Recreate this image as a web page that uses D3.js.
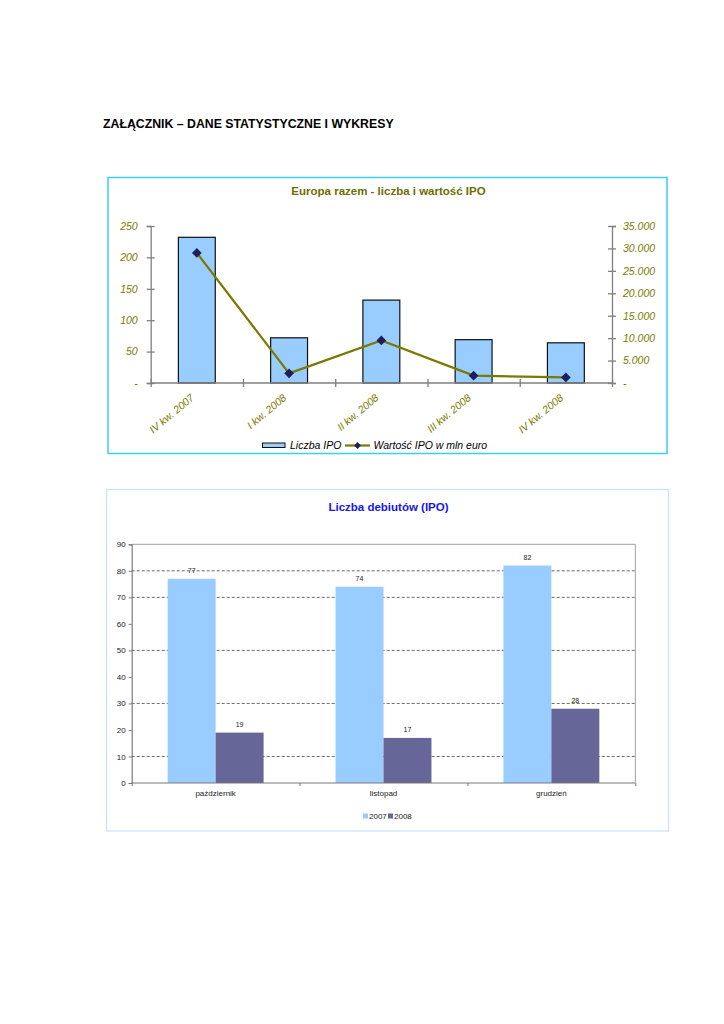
<!DOCTYPE html>
<html>
<head>
<meta charset="utf-8">
<script src="https://cdn.jsdelivr.net/npm/d3@7"></script>
<style>
    body { margin: 0; background: #fff; }
    svg { display: block; font-family: Arial, "Liberation Sans", sans-serif; }
</style>
</head>
<body>
<div id="page"></div>
<script>
// chart 1 - Europa razem
const quarters = ["IV kw. 2007", "I kw. 2008", "II kw. 2008", "III kw. 2008", "IV kw. 2008"]
const ipoCount = [232, 72, 132, 69, 64]
const ipoValue = [29000, 2150, 9500, 1640, 1240]
const countTicks = [0, 50, 100, 150, 200, 250]
const valueTicks = [0, 5000, 10000, 15000, 20000, 25000, 30000, 35000]

// chart 2 - Liczba debiutów
const months = ["październik", "listopad", "grudzień"]
const years = ["2007", "2008"]
const debuts2007 = [77, 74, 82]
const debuts2008 = [19, 17, 28]
const debutTicks = [0, 10, 20, 30, 40, 50, 60, 70, 80, 90]
const gridTicks = [10, 30, 50, 70, 80] // only these dashed lines show in the original

const olive = "#7a7a00"
const svg = d3.select("#page").append("svg")
    .attr("width", 724)
    .attr("height", 1024)

svg.append("text")
    .attr("x", 103)
    .attr("y", 128)
    .attr("font-size", 12.3)
    .attr("font-weight", "bold")
    .text("ZAŁĄCZNIK – DANE STATYSTYCZNE I WYKRESY")

// ---------------- chart 1 ----------------
{
    const left = 150.7, right = 612, top = 226, bottom = 383

    svg.append("rect")
        .attr("x", 108).attr("y", 177.5)
        .attr("width", 559).attr("height", 276)
        .attr("fill", "none")
        .attr("stroke", "#3ccdf5")
        .attr("stroke-width", 1.5)

    svg.append("text")
        .attr("x", 388.5).attr("y", 195)
        .attr("text-anchor", "middle")
        .attr("font-size", 11.5)
        .attr("font-weight", "bold")
        .attr("fill", "#6e6e00")
        .text("Europa razem - liczba i wartość IPO")

    const x = d3.scaleBand()
        .domain(quarters)
        .range([left, right])
        .paddingInner(0.6)
        .paddingOuter(0.3)
    const xTicks = d3.scaleLinear().domain([0, quarters.length]).range([left, right])
    const yL = d3.scaleLinear().domain([0, 250]).range([bottom, top])
    const yR = d3.scaleLinear().domain([0, 35000]).range([bottom, top])

    const bars = quarters.map((q, i) => ({q, n: ipoCount[i], v: ipoValue[i]}))

    svg.append("g").selectAll("rect")
        .data(bars)
        .join("rect")
        .attr("x", d => x(d.q))
        .attr("y", d => yL(d.n))
        .attr("width", x.bandwidth())
        .attr("height", d => bottom - yL(d.n))
        .attr("fill", "#99ccff")
        .attr("stroke", "#111")
        .attr("stroke-width", 1.2)

    const fmt = d => d === 0 ? "-" : d3.format(",")(d).replace(/,/g, ".")

    const gL = svg.append("g")
        .attr("transform", `translate(${left},0)`)
        .call(d3.axisLeft(yL).tickValues(countTicks).tickFormat(d => d === 0 ? "-" : d).tickSize(4).tickPadding(9))
    const gR = svg.append("g")
        .attr("transform", `translate(${right},0)`)
        .call(d3.axisRight(yR).tickValues(valueTicks).tickFormat(fmt).tickSize(4).tickPadding(7))
    const gB = svg.append("g")
        .attr("transform", `translate(0,${bottom})`)
        .call(d3.axisBottom(xTicks).tickValues(d3.range(quarters.length + 1)).tickFormat("").tickSize(4).tickSizeOuter(0))

    for (const g of [gL, gR, gB]) {
        g.select(".domain").attr("stroke", "#808080").attr("stroke-width", 1.3)
        g.selectAll(".tick line").attr("stroke", "#808080").attr("stroke-width", 1.3)
        g.selectAll("text")
            .attr("fill", olive)
            .attr("font-style", "italic")
            .attr("font-size", 10.5)
            .attr("font-family", "Arial, 'Liberation Sans', sans-serif")
    }
    // ticks cross the axis
    gL.selectAll(".tick line").attr("x1", 4)
    gR.selectAll(".tick line").attr("x1", -4)
    gB.selectAll(".tick line").attr("y1", -4)
    gB.select(".domain").attr("d", `M${left},0H${right}`)

    svg.append("g").selectAll("text")
        .data(quarters)
        .join("text")
        .attr("transform", d => `translate(${x(d) + x.bandwidth() / 2 - 2},399) rotate(-40)`)
        .attr("text-anchor", "end")
        .attr("font-size", 10.5)
        .attr("font-style", "italic")
        .attr("fill", olive)
        .text(d => d)

    const line = d3.line()
        .x(d => x(d.q) + x.bandwidth() / 2)
        .y(d => yR(d.v))

    svg.append("path")
        .datum(bars)
        .attr("d", line)
        .attr("fill", "none")
        .attr("stroke", "#7a7a00")
        .attr("stroke-width", 2.2)

    const diamond = d3.symbol().type(d3.symbolDiamond2).size(60)
    svg.append("g").selectAll("path")
        .data(bars)
        .join("path")
        .attr("transform", d => `translate(${x(d.q) + x.bandwidth() / 2},${yR(d.v)})`)
        .attr("d", diamond)
        .attr("fill", "#1c1f5c")

    // legend
    const lg = svg.append("g")
    lg.append("rect")
        .attr("x", 262.5).attr("y", 443)
        .attr("width", 22.5).attr("height", 4.5)
        .attr("fill", "#99ccff")
        .attr("stroke", "#111")
    lg.append("text")
        .attr("x", 290).attr("y", 449)
        .attr("font-size", 10.5)
        .attr("font-style", "italic")
        .text("Liczba IPO")
    lg.append("line")
        .attr("x1", 345).attr("x2", 370)
        .attr("y1", 445.5).attr("y2", 445.5)
        .attr("stroke", "#7a7a00")
        .attr("stroke-width", 2.2)
    lg.append("path")
        .attr("transform", "translate(357.5,445.5)")
        .attr("d", d3.symbol().type(d3.symbolDiamond2).size(30))
        .attr("fill", "#1c1f5c")
    lg.append("text")
        .attr("x", 373.5).attr("y", 449)
        .attr("font-size", 10.5)
        .attr("font-style", "italic")
        .text("Wartość IPO w mln euro")
}

// ---------------- chart 2 ----------------
{
    const left = 131.7, right = 635.3, top = 544.3, bottom = 783

    svg.append("rect")
        .attr("x", 106.5).attr("y", 489.5)
        .attr("width", 562).attr("height", 341.5)
        .attr("fill", "none")
        .attr("stroke", "#c4e1ff")
        .attr("stroke-width", 1.2)

    svg.append("text")
        .attr("x", 388.5).attr("y", 510.5)
        .attr("text-anchor", "middle")
        .attr("font-size", 11.5)
        .attr("font-weight", "bold")
        .attr("fill", "#1515f0")
        .text("Liczba debiutów (IPO)")

    const x0 = d3.scaleBand().domain(months).range([left, right])
    const barW = x0.bandwidth() / 3.5
    const x1 = d3.scaleBand().domain(years).range([barW * 0.75, barW * 2.75])
    const y = d3.scaleLinear().domain([0, 90]).range([bottom, top])

    // dashed gridlines
    svg.append("g").selectAll("line")
        .data(gridTicks)
        .join("line")
        .attr("x1", left).attr("x2", right)
        .attr("y1", d => y(d)).attr("y2", d => y(d))
        .attr("stroke", "#6a6a6a")
        .attr("stroke-dasharray", "3,2")

    // plot area border (top + right)
    svg.append("path")
        .attr("d", `M${left},${top}H${right}V${bottom}`)
        .attr("fill", "none")
        .attr("stroke", "#a0a0a0")

    const rows = []
    months.forEach((m, i) => {
        rows.push({m, year: "2007", v: debuts2007[i]})
        rows.push({m, year: "2008", v: debuts2008[i]})
    })
    const colour = d3.scaleOrdinal().domain(years).range(["#99ccff", "#666699"])

    svg.append("g").selectAll("rect")
        .data(rows)
        .join("rect")
        .attr("x", d => x0(d.m) + x1(d.year))
        .attr("y", d => y(d.v))
        .attr("width", x1.bandwidth())
        .attr("height", d => bottom - y(d.v))
        .attr("fill", d => colour(d.year))

    svg.append("g").selectAll("text")
        .data(rows)
        .join("text")
        .attr("x", d => x0(d.m) + x1(d.year) + x1.bandwidth() / 2)
        .attr("y", d => y(d.v) - 6)
        .attr("text-anchor", "middle")
        .attr("font-size", 7)
        .attr("fill", "#222")
        .text(d => d.v)

    const gY = svg.append("g")
        .attr("transform", `translate(${left},0)`)
        .call(d3.axisLeft(y).tickValues(debutTicks).tickSize(3).tickPadding(3))
    const gX = svg.append("g")
        .attr("transform", `translate(0,${bottom})`)
        .call(d3.axisBottom(d3.scaleLinear().domain([0, 3]).range([left, right]))
            .tickValues([0, 1, 2, 3]).tickFormat("").tickSize(3).tickSizeOuter(0))
    gX.select(".domain").attr("d", `M${left},0H${right}`)

    for (const g of [gY, gX]) {
        g.select(".domain").attr("stroke", "#7a7a7a").attr("stroke-width", 1.2)
        g.selectAll(".tick line").attr("stroke", "#7a7a7a")
        g.selectAll("text")
            .attr("font-size", 8)
            .attr("fill", "#222")
            .attr("font-family", "Arial, 'Liberation Sans', sans-serif")
    }

    svg.append("g").selectAll("text")
        .data(months)
        .join("text")
        .attr("x", d => x0(d) + x0.bandwidth() / 2)
        .attr("y", 796)
        .attr("text-anchor", "middle")
        .attr("font-size", 8)
        .attr("fill", "#222")
        .text(d => d)

    // legend
    const lg = svg.append("g").selectAll("g")
        .data(years)
        .join("g")
        .attr("transform", (d, i) => `translate(${363 + i * 25},813.5)`)
    lg.append("rect")
        .attr("width", 5).attr("height", 5)
        .attr("fill", d => colour(d))
    lg.append("text")
        .attr("x", 6).attr("y", 5.5)
        .attr("font-size", 8)
        .attr("fill", "#222")
        .text(d => d)
}
</script>
</body>
</html>
